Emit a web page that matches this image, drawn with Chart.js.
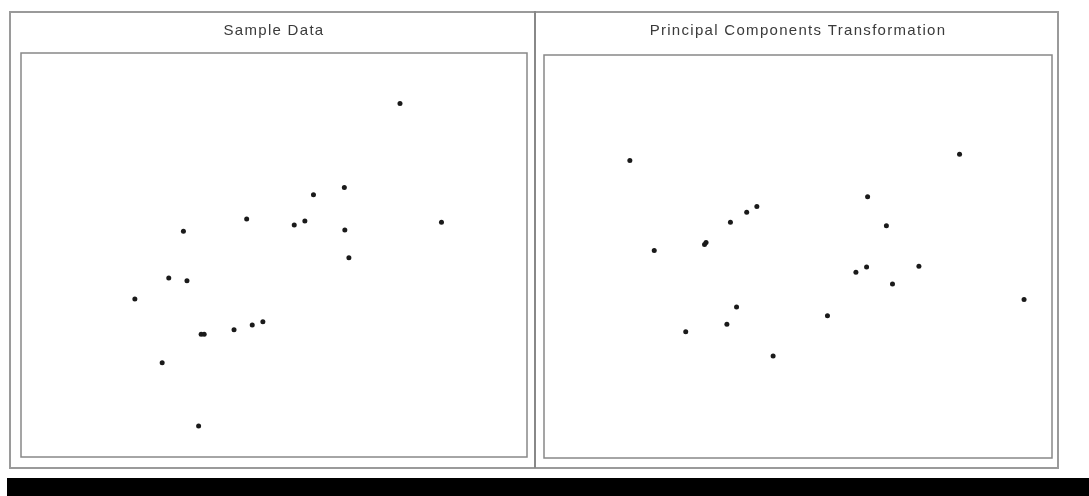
<!DOCTYPE html>
<html>
<head>
<meta charset="utf-8">
<script src="https://cdn.jsdelivr.net/npm/chart.js@4.4.1/dist/chart.umd.min.js"></script>
<style>
  html, body { margin: 0; padding: 0; background: #fff; }
  body { width: 1089px; height: 496px; position: relative; overflow: hidden; }
  .frame { position: absolute; left: 9px; top: 11px; width: 1046px; height: 454px; border: 2px solid #9a9a9a; }
  .divider { position: absolute; left: 534px; top: 11px; width: 2px; height: 457px; background: #888; }
  .bar { position: absolute; left: 7px; top: 478px; right: 0; height: 18px; background: #000; }
  .panel { position: absolute; top: 0; height: 496px; }
  #left-panel { left: 0; width: 535px; }
  #right-panel { left: 535px; width: 554px; }
</style>
</head>
<body>
<div class="frame"></div>
<div class="divider"></div>
<div class="panel" id="left-panel"><canvas id="sample-chart"></canvas></div>
<div class="panel" id="right-panel"><canvas id="pca-chart"></canvas></div>
<div class="bar"></div>

<script>
// Sample data (left panel)
const sampleX = [7.49, 6.39, 5.78, 4.46, 5.40, 5.61, 6.40, 8.31, 6.48, 3.21, 2.92, 3.28, 2.25, 3.56, 3.62, 4.21, 4.57, 4.78, 2.79, 3.51];
const sampleY = [8.75, 6.67, 6.49, 5.89, 5.74, 5.84, 5.62, 5.81, 4.93, 5.59, 4.43, 4.36, 3.91, 3.04, 3.04, 3.15, 3.27, 3.35, 2.33, 0.77];

// Principal components transformation (right panel)
const pcaX = [1.69, 2.17, 3.16, 3.19, 3.67, 3.99, 4.19, 3.79, 3.60, 2.79, 4.51, 5.58, 6.14, 6.35, 6.37, 6.74, 6.86, 7.38, 8.18, 9.45];
const pcaY = [7.38, 5.15, 5.30, 5.35, 5.85, 6.10, 6.24, 3.75, 3.32, 3.13, 2.53, 3.53, 4.61, 4.74, 6.48, 5.76, 4.32, 4.76, 7.54, 3.93];

const axisMin = 0;
const axisMax = 10;

// draws the box round the plot area, and spaces out the title letters a bit
const plotBox = {
  id: 'plotBox',
  beforeDraw(chart) {
    chart.ctx.letterSpacing = '1.3px';
  },
  afterDraw(chart) {
    const { ctx, chartArea: a } = chart;
    ctx.letterSpacing = '0px';
    ctx.save();
    ctx.strokeStyle = '#888';
    ctx.lineWidth = 1.5;
    ctx.strokeRect(a.left, a.top, a.right - a.left, a.bottom - a.top);
    ctx.restore();
  }
};

function makeScatter(id, title, xs, ys, padding, titlePad) {
  const points = xs.map((x, i) => ({ x: x, y: ys[i] }));
  new Chart(document.getElementById(id), {
    type: 'scatter',
    data: {
      datasets: [{
        data: points,
        pointRadius: 2.5,
        pointBorderWidth: 0,
        backgroundColor: '#1a1a1a'
      }]
    },
    options: {
      responsive: true,
      maintainAspectRatio: false,
      animation: false,
      layout: { padding: padding },
      plugins: {
        legend: { display: false },
        tooltip: { enabled: false },
        title: {
          display: true,
          text: title,
          color: '#3a3a3a',
          font: { family: 'Liberation Sans', size: 15, weight: 'normal', lineHeight: 1.2 },
          padding: titlePad
        }
      },
      scales: {
        x: { type: 'linear', display: false, min: axisMin, max: axisMax },
        y: { type: 'linear', display: false, min: axisMin, max: axisMax }
      }
    },
    plugins: [plotBox]
  });
}

makeScatter('sample-chart', 'Sample Data', sampleX, sampleY,
  { left: 21, right: 8, top: 0, bottom: 39 }, { top: 22, bottom: 13 });
makeScatter('pca-chart', 'Principal Components Transformation', pcaX, pcaY,
  { left: 9, right: 37, top: 0, bottom: 38 }, { top: 22, bottom: 15 });
</script>
</body>
</html>
